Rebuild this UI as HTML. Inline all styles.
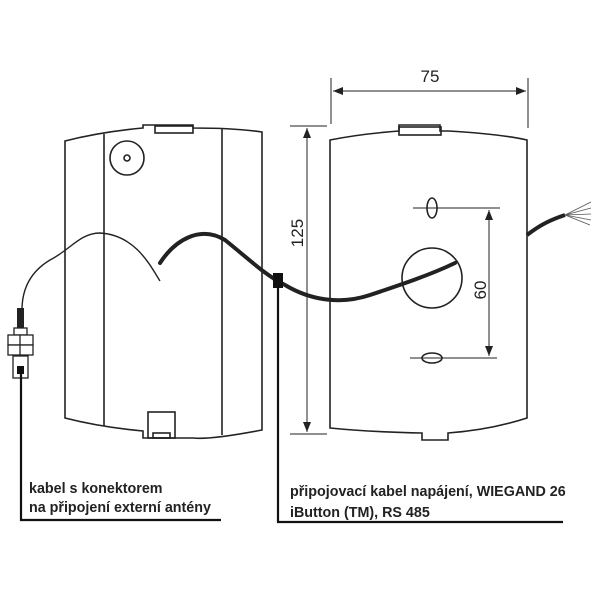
<!DOCTYPE html>
<html><head><meta charset="utf-8"><style>
html,body{margin:0;padding:0;background:#fff;}
svg{display:block}
text{font-family:"Liberation Sans",sans-serif;}
</style></head><body>
<svg width="600" height="600" viewBox="0 0 600 600">
<defs>
<marker id="a" viewBox="0 0 10 10" refX="10" refY="5" markerWidth="10" markerHeight="10" orient="auto-start-reverse" markerUnits="userSpaceOnUse"><path d="M0,1 L10,5 L0,9 z" fill="#222"/></marker>
</defs>
<g fill="none" stroke="#222" stroke-width="1.6">
<path d="M65,141 Q100,132 143,128 L143,125 L193,125 L193,128 Q235,128 262,132 L262,430 Q210,440 193,438 L143,438 L143,431 Q100,427 65,418 Z"/>
<line x1="104" y1="134" x2="104" y2="426"/>
<line x1="222" y1="129" x2="222" y2="435"/>
<rect x="155" y="126" width="38" height="7"/>
<circle cx="127" cy="158" r="17"/>
<circle cx="127" cy="158" r="3"/>
<rect x="148" y="412" width="27" height="26"/>
<rect x="153" y="433" width="17" height="5"/>
<path d="M330,140 Q360,134 399,131 L399,125 L440,125 L440,131 L448,131 Q500,134 527,140 L527,418 Q490,430 448,433 L448,440 L422,440 L422,433 Q370,432 330,428 Z"/>
<rect x="399" y="127" width="42" height="8"/>
<ellipse cx="432" cy="208" rx="5" ry="10"/>
<ellipse cx="432" cy="358" rx="10" ry="5"/>
<circle cx="432" cy="278" r="30"/>
</g>
<g stroke="#222" stroke-width="1" fill="none">
<line x1="331" y1="78" x2="331" y2="124"/>
<line x1="528" y1="78" x2="528" y2="128"/>
<line x1="333" y1="91" x2="526" y2="91" marker-start="url(#a)" marker-end="url(#a)"/>
<line x1="290" y1="126" x2="327" y2="126"/>
<line x1="290" y1="434" x2="327" y2="434"/>
<line x1="307" y1="128" x2="307" y2="432" marker-start="url(#a)" marker-end="url(#a)"/>
<line x1="413" y1="208" x2="500" y2="208"/>
<line x1="410" y1="358" x2="497" y2="358"/>
<line x1="489" y1="210" x2="489" y2="356" marker-start="url(#a)" marker-end="url(#a)"/>
</g>
<text x="430" y="82" font-size="17" text-anchor="middle" fill="#222">75</text>
<text transform="translate(303,233) rotate(-90)" font-size="17" text-anchor="middle" fill="#222">125</text>
<text transform="translate(486,290) rotate(-90)" font-size="17" text-anchor="middle" fill="#222">60</text>
<path d="M160,281 C150,265 135,235 100,233 C80,233 70,250 50,260 C30,272 22,290 22,310" fill="none" stroke="#222" stroke-width="1.4"/>
<path d="M160,263 C175,240 200,225 225,240 C250,260 265,275 285,285 C310,300 340,305 370,295 C400,285 430,275 455,263" fill="none" stroke="#222" stroke-width="4" stroke-linecap="round"/>
<path d="M527,235 C540,225 550,220 565,215" fill="none" stroke="#222" stroke-width="4"/>
<g stroke="#555" stroke-width="0.8"><line x1="565" y1="215" x2="591" y2="202"/><line x1="565" y1="215" x2="591" y2="208"/><line x1="565" y1="215" x2="591" y2="214"/><line x1="565" y1="215" x2="591" y2="220"/><line x1="565" y1="215" x2="590" y2="225"/></g>
<rect x="17" y="308" width="7" height="20" fill="#222"/>
<g fill="#fff" stroke="#222" stroke-width="1.3">
<rect x="14" y="328" width="13" height="7"/>
<rect x="8" y="335" width="25" height="10"/>
<rect x="8" y="345" width="25" height="10"/>
<line x1="20" y1="335" x2="20" y2="355"/>
<rect x="13" y="356" width="15" height="22"/>
</g>
<rect x="17" y="366" width="7" height="8" fill="#111"/>
<rect x="273" y="273" width="10" height="15" fill="#111"/>
<g stroke="#111" stroke-width="2.2" fill="none">
<polyline points="21,374 21,520 221,520"/>
<polyline points="278,288 278,522 563,522"/>
</g>
<g font-size="14.3" font-weight="bold" fill="#222">
<text x="29" y="493">kabel s konektorem</text>
<text x="29" y="512">na připojení externí antény</text>
<text x="290" y="496">připojovací kabel napájení, WIEGAND 26</text>
<text x="290" y="517">iButton (TM), RS 485</text>
</g>
</svg>
</body></html>
